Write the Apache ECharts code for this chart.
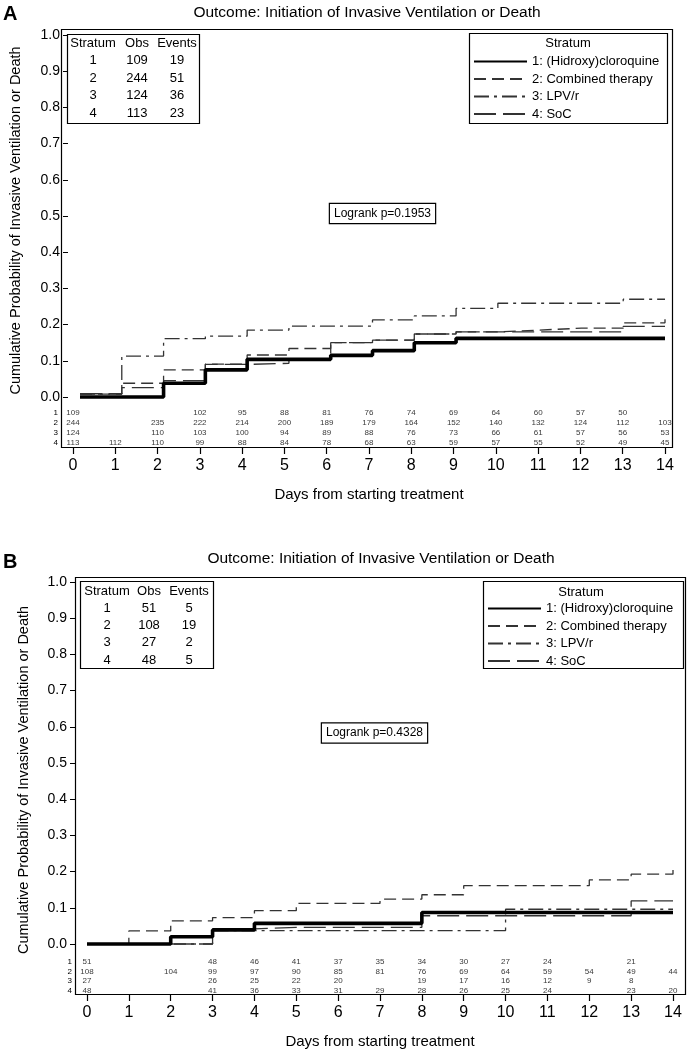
<!DOCTYPE html>
<html><head><meta charset="utf-8">
<script src="https://cdn.jsdelivr.net/npm/echarts@6/dist/echarts.min.js"></script>
<style>html,body{margin:0;padding:0;background:#fff}#c{width:692px;height:1052px}</style>
</head><body><div id="c"></div>
<script>
// ---------------- data ----------------
const days = [0,1,2,3,4,5,6,7,8,9,10,11,12,13,14];
const strata = ['1: (Hidroxy)cloroquine','2: Combined therapy','3: LPV/r','4: SoC'];
const stratumIds = ['1','2','3','4'];
const statHeader = ['Stratum','Obs','Events'];
const plotTitle = 'Outcome: Initiation of Invasive Ventilation or Death';
const yTitle = 'Cumulative Probability of Invasive Ventilation or Death';
const xTitle = 'Days from starting treatment';

// Panel A: cumulative probability held over [day, day+1)
const cqA   = [0,0,0.038,0.075,0.104,0.104,0.115,0.128,0.150,0.162,0.162,0.162,0.162,0.162,0.162];
const combA = [0.008,0.038,0.075,0.091,0.116,0.134,0.150,0.157,0.174,0.180,0.185,0.190,0.190,0.205,0.215];
const lpvA  = [0.008,0.113,0.161,0.168,0.185,0.196,0.196,0.213,0.224,0.245,0.259,0.259,0.259,0.270,0.270];
const socA  = [0.009,0.026,0.045,0.090,0.093,0.104,0.150,0.157,0.174,0.180,0.180,0.180,0.180,0.195,0.195];
const riskA1 = [109,null,null,102,95,88,81,76,74,69,64,60,57,50,null];
const riskA2 = [244,null,235,222,214,200,189,179,164,152,140,132,124,112,103];
const riskA3 = [124,null,110,103,100,94,89,88,76,73,66,61,57,56,53];
const riskA4 = [113,112,110,99,88,84,78,68,63,59,57,55,52,49,45];
const obsA = [109,244,124,113];
const eventsA = [19,51,36,23];
const logrankA = 'Logrank p=0.1953';

// Panel B
const cqB   = [0,0,0.020,0.039,0.057,0.057,0.057,0.057,0.087,0.087,0.087,0.087,0.087,0.087,0.087];
const combB = [0,0.036,0.064,0.073,0.092,0.112,0.112,0.124,0.136,0.161,0.161,0.161,0.177,0.193,0.211];
const lpvB  = [0,0,0,0.037,0.037,0.037,0.037,0.037,0.037,0.037,0.096,0.096,0.096,0.096,0.096];
const socB  = [0,0,0,0.042,0.046,0.046,0.046,0.046,0.078,0.078,0.078,0.078,0.078,0.119,0.119];
const riskB1 = [51,null,null,48,46,41,37,35,34,30,27,24,null,21,null];
const riskB2 = [108,null,104,99,97,90,85,81,76,69,64,59,54,49,44];
const riskB3 = [27,null,null,26,25,22,20,null,19,17,16,12,9,8,null];
const riskB4 = [48,null,null,41,36,33,31,29,28,26,25,24,null,23,20];
const obsB = [51,108,27,48];
const eventsB = [5,19,2,5];
const logrankB = 'Logrank p=0.4328';

// ---------------- styling / layout ----------------
const FONT = '"Liberation Sans", Arial, Helvetica, sans-serif';
const lineStyles = [
  {color:'#000', width:3.6, type:'solid'},
  {color:'#333', width:1.3, type:[12,6]},
  {color:'#333', width:1.3, type:[15,5,3,5]},
  {color:'#333', width:1.3, type:[22,7]}
];
const layoutA = {fl:61, ft:29, fr:672, fb:447, d0:73, d14:665, y1:35, y0:397,
  riskTop:408, riskH:40, letter:'A', letterY:4, titleX:367, titleY:13, yNamePad:9, yNameGap:45,
  stat:{x:67,y:34,w:132,h:89,cols:[93,137,177],hdr:43,rowGap:17.5},
  leg:{x:469,y:33,w:198,h:90,hdrX:568,hdrY:43,itemX:473,itemY:55},
  lr:{x:382.5,y:213.5}};
const layoutB = {fl:75, ft:577, fr:685, fb:994, d0:87, d14:673, y1:582, y0:944,
  riskTop:957, riskH:38.5, letter:'B', letterY:552, titleX:381, titleY:559, yNamePad:34, yNameGap:44,
  stat:{x:80,y:581,w:133,h:87,cols:[107,149,189],hdr:591,rowGap:17.3},
  leg:{x:483,y:581,w:200,h:87,hdrX:581,hdrY:592,itemX:487,itemY:602},
  lr:{x:374.5,y:733}};

const grid=[], xAxis=[], yAxis=[], series=[], graphic=[], legend=[];
const txt = (text, x, y, size) => ({type:'text', z:21, x, y,
  style:{text, font:size+'px '+FONT, fill:'#000', textAlign:'center', textVerticalAlign:'middle', align:'center', verticalAlign:'middle'}});

function buildPanel(L, curves, risks, obs, events, logrank){
  const g0 = grid.length;
  const off = L.d0 - L.fl;            // y axis sits on the frame, left of day 0
  const xDays = {type:'value', min:0, max:14, interval:1, show:false, axisLine:{onZero:false}};
  // main plot grid
  grid.push({left:L.d0, top:L.y1, width:L.d14-L.d0, height:L.y0-L.y1});
  xAxis.push(Object.assign({gridIndex:g0}, xDays));
  yAxis.push({gridIndex:g0, type:'value', min:0, max:1, interval:0.1, position:'left', offset:off,
    axisLine:{show:false, onZero:false}, splitLine:{show:false},
    axisTick:{show:true, length:5, lineStyle:{color:'#000', width:1}},
    axisLabel:{fontSize:14, color:'#000', margin:8, fontFamily:FONT, formatter:v=>v.toFixed(1)},
    name:yTitle, nameLocation:'middle', nameGap:L.yNameGap,
    nameTextStyle:{fontSize:14.5, color:'#000', fontFamily:FONT, padding:[0,L.yNamePad,0,0]}});
  // risk table grid
  grid.push({left:L.d0, top:L.riskTop, width:L.d14-L.d0, height:L.riskH});
  xAxis.push(Object.assign({gridIndex:g0+1}, xDays));
  yAxis.push({gridIndex:g0+1, type:'category', data:stratumIds, inverse:true, position:'left', offset:off,
    axisLine:{show:false, onZero:false}, axisTick:{show:false}, splitLine:{show:false},
    axisLabel:{interval:0, fontSize:8, color:'#000', margin:3, fontFamily:FONT}});
  // x tick axis grid
  grid.push({left:L.d0, top:L.fb-1, width:L.d14-L.d0, height:1});
  xAxis.push({gridIndex:g0+2, type:'value', min:0, max:14, interval:1, position:'bottom',
    axisLine:{show:false, onZero:false}, splitLine:{show:false},
    axisTick:{show:true, length:7, lineStyle:{color:'#000', width:1.2}},
    axisLabel:{fontSize:16, color:'#000', margin:11, fontFamily:FONT},
    name:xTitle, nameLocation:'middle', nameGap:40,
    nameTextStyle:{fontSize:15, color:'#000', fontFamily:FONT}});
  yAxis.push({gridIndex:g0+2, type:'value', show:false, axisLine:{onZero:false}});

  curves.forEach((vals, k) => {
    series.push({type:'line', name:strata[k], step:'end', symbol:'none', showSymbol:false,
      xAxisIndex:g0, yAxisIndex:g0, lineStyle:lineStyles[k], itemStyle:{color:lineStyles[k].color},
      z: k===0 ? 5 : 3, silent:true, animation:false, clip:false,
      data: days.map((d,i)=>[d, vals[i]])});
  });
  const riskData = [];
  risks.forEach((row, r) => row.forEach((n, i) => { if (n !== null) riskData.push([days[i], stratumIds[r], n]); }));
  series.push({type:'scatter', xAxisIndex:g0+1, yAxisIndex:g0+1, symbolSize:0, silent:true, animation:false, clip:false,
    label:{show:true, position:'inside', formatter:p=>String(p.value[2]), fontSize:8, color:'#000', fontFamily:FONT},
    data:riskData});

  // frame
  graphic.push({type:'rect', z:20, shape:{x:L.fl+0.5, y:L.ft+0.5, width:L.fr-L.fl, height:L.fb-L.ft},
    style:{fill:'none', stroke:'#000', lineWidth:1.2}});
  // panel letter & title
  graphic.push({type:'text', z:20, x:3, y:L.letterY,
    style:{text:L.letter, font:'bold 20px '+FONT, fill:'#000', textAlign:'left', textVerticalAlign:'top', align:'left', verticalAlign:'top'}});
  graphic.push(txt(plotTitle, L.titleX, L.titleY, 15.5));
  // stats table
  const S = L.stat;
  graphic.push({type:'rect', z:20, shape:{x:S.x+0.5, y:S.y+0.5, width:S.w, height:S.h},
    style:{fill:'#fff', stroke:'#000', lineWidth:1.2}});
  const cols = [stratumIds, obs.map(String), events.map(String)];
  cols.forEach((col, c) => {
    graphic.push(txt(statHeader[c], S.cols[c], S.hdr, 13));
    col.forEach((v, r) => graphic.push(txt(v, S.cols[c], S.hdr + S.rowGap*(r+1), 13)));
  });
  // legend box
  const G = L.leg;
  graphic.push({type:'rect', z:0, shape:{x:G.x+0.5, y:G.y+0.5, width:G.w, height:G.h},
    style:{fill:'#fff', stroke:'#000', lineWidth:1.2}});
  graphic.push(txt('Stratum', G.hdrX, G.hdrY, 13));
  legend.push({data:strata, orient:'vertical', left:G.itemX, top:G.itemY, padding:0,
    itemWidth:53, itemHeight:12, itemGap:4.5, selectedMode:false, z:22,
    itemStyle:{opacity:0, borderWidth:0},
    textStyle:{fontSize:13, color:'#000', fontFamily:FONT}});
  // logrank
  const lr = txt(logrank, L.lr.x, L.lr.y, 12);
  Object.assign(lr.style, {backgroundColor:'#fff', borderColor:'#000', borderWidth:1.2, padding:[4,4,3,4]});
  graphic.push(lr);
}

buildPanel(layoutA, [cqA, combA, lpvA, socA], [riskA1, riskA2, riskA3, riskA4], obsA, eventsA, logrankA);
buildPanel(layoutB, [cqB, combB, lpvB, socB], [riskB1, riskB2, riskB3, riskB4], obsB, eventsB, logrankB);

const chart = echarts.init(document.getElementById('c'), null, {renderer:'canvas'});
chart.setOption({
  animation:false,
  backgroundColor:'#fff',
  textStyle:{fontFamily:FONT},
  grid, xAxis, yAxis, series, legend, graphic
});
</script></body></html>
